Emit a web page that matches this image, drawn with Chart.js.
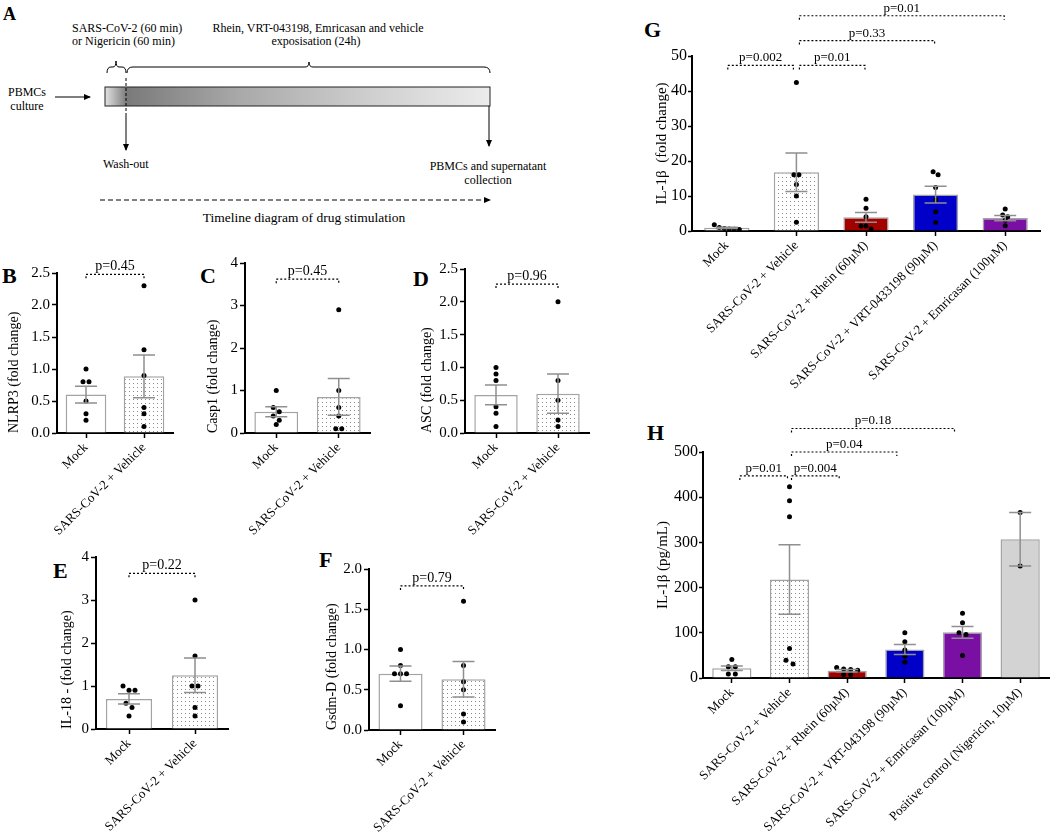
<!DOCTYPE html>
<html><head><meta charset="utf-8">
<script src="https://cdn.jsdelivr.net/npm/chart.js@4.4.1/dist/chart.umd.min.js"></script>
<style>
html,body{margin:0;padding:0;background:#fff;}
#wrap{position:relative;width:1052px;height:837px;overflow:hidden;background:#fff;}
canvas{position:absolute;}
svg{position:absolute;left:0;top:0;}
</style></head><body>
<div id="wrap">
<svg width="1052" height="837" font-family="'Liberation Serif', 'Times New Roman', serif" fill="#000">
<defs>
<linearGradient id="tl" x1="0" x2="1" y1="0" y2="0">
<stop offset="0" stop-color="#e2e2e2"/>
<stop offset="0.057" stop-color="#7a7a7a"/>
<stop offset="0.35" stop-color="#a9a9a9"/>
<stop offset="0.7" stop-color="#d0d0d0"/>
<stop offset="1" stop-color="#ececec"/>
</linearGradient>
<marker id="ah" markerWidth="8" markerHeight="8" refX="6" refY="4" orient="auto" markerUnits="userSpaceOnUse"><path d="M0,1 L7,4 L0,7 z" fill="#000"/></marker>
</defs>
<text x="3" y="20" font-size="18" font-weight="bold">A</text>
<text x="72" y="32" font-size="12">SARS-CoV-2 (60 min)</text>
<text x="72" y="45" font-size="12">or Nigericin (60 min)</text>
<text x="318" y="32" font-size="12" text-anchor="middle">Rhein, VRT-043198, Emricasan and vehicle</text>
<text x="316" y="45" font-size="12" text-anchor="middle">exposisation (24h)</text>
<path d="M107,73 Q107,67 111,67 L113,67 Q116,67 116,61 Q116,67 119,67 L122,67 Q126,67 126,73" fill="none" stroke="#000" stroke-width="1"/>
<path d="M127,73 Q127,67 133,67 L305,67 Q309,67 309,62 Q309,67 313,67 L484,67 Q490,67 490,73" fill="none" stroke="#000" stroke-width="1"/>
<rect x="105" y="87" width="385" height="19" fill="url(#tl)" stroke="#222" stroke-width="1"/>
<text x="27" y="96" font-size="12" text-anchor="middle">PBMCs</text>
<text x="27" y="110" font-size="12" text-anchor="middle">culture</text>
<line x1="55" y1="97" x2="90" y2="97" stroke="#000" stroke-width="1" marker-end="url(#ah)"/>
<line x1="126" y1="78" x2="126" y2="116" stroke="#000" stroke-width="1" stroke-dasharray="3,2"/>
<line x1="126" y1="116" x2="126" y2="150" stroke="#000" stroke-width="1" marker-end="url(#ah)"/>
<text x="103" y="168" font-size="12">Wash-out</text>
<line x1="489" y1="106" x2="489" y2="146" stroke="#000" stroke-width="1" marker-end="url(#ah)"/>
<text x="488" y="170" font-size="12" text-anchor="middle">PBMCs and supernatant</text>
<text x="488" y="184" font-size="12" text-anchor="middle">collection</text>
<line x1="100" y1="200" x2="490" y2="200" stroke="#000" stroke-width="1" stroke-dasharray="5,3" marker-end="url(#ah)"/>
<text x="304" y="222" font-size="13.5" text-anchor="middle">Timeline diagram of drug stimulation</text>
<text x="2" y="283" font-size="22" font-weight="bold">B</text>
<text x="200" y="283" font-size="22" font-weight="bold">C</text>
<text x="413" y="286" font-size="22" font-weight="bold">D</text>
<text x="53" y="578" font-size="22" font-weight="bold">E</text>
<text x="319" y="567" font-size="22" font-weight="bold">F</text>
<text x="644" y="37" font-size="22" font-weight="bold">G</text>
<text x="647" y="440" font-size="22" font-weight="bold">H</text>
</svg>
<canvas id="cB" width="190" height="290" style="left:0px;top:250px"></canvas>
<canvas id="cC" width="200" height="295" style="left:185px;top:245px"></canvas>
<canvas id="cD" width="220" height="295" style="left:385px;top:245px"></canvas>
<canvas id="cE" width="200" height="297" style="left:40px;top:540px"></canvas>
<canvas id="cF" width="200" height="297" style="left:310px;top:540px"></canvas>
<canvas id="cG" width="407" height="400" style="left:645px;top:0px"></canvas>
<canvas id="cH" width="402" height="437" style="left:650px;top:400px"></canvas>
</div>
<script>
const SERIF = "'Liberation Serif', 'Times New Roman', serif";

// ---------- data ----------
const catsTwo = ['Mock', 'SARS-CoV-2 + Vehicle'];

// B: NLRP3
const nlrp3Mean = [0.60, 0.885];
const nlrp3Sem = [0.13, 0.335];
const nlrp3Mock = [1.0, 0.8, 0.8, 0.5, 0.3, 0.2];
const nlrp3Vehicle = [2.3, 1.3, 0.9, 0.4, 0.3, 0.1];
const nlrp3Ticks = [0, 0.5, 1.0, 1.5, 2.0, 2.5];
const nlrp3PText = ['p=0.45'];
const nlrp3PLevel = [2.48];

// C: Casp1
const casp1Mean = [0.50, 0.85];
const casp1Sem = [0.12, 0.43];
const casp1Mock = [1.0, 0.6, 0.5, 0.4, 0.3, 0.2];
const casp1Vehicle = [2.9, 1.0, 0.6, 0.4, 0.1, 0.1];
const casp1Ticks = [0, 1, 2, 3, 4];
const casp1PText = ['p=0.45'];
const casp1PLevel = [3.62];

// D: ASC
const ascMean = [0.58, 0.60];
const ascSem = [0.15, 0.30];
const ascMock = [1.0, 0.9, 0.8, 0.4, 0.3, 0.1];
const ascVehicle = [2.0, 0.8, 0.5, 0.2, 0.1];
const ascTicks = [0, 0.5, 1.0, 1.5, 2.0, 2.5];
const ascPText = ['p=0.96'];
const ascPLevel = [2.27];

// E: IL-18
const il18Mean = [0.70, 1.25];
const il18Sem = [0.12, 0.40];
const il18Mock = [1.0, 0.9, 0.9, 0.6, 0.5, 0.3];
const il18Vehicle = [3.0, 1.7, 1.0, 1.0, 0.5, 0.3];
const il18Ticks = [0, 1, 2, 3, 4];
const il18PText = ['p=0.22'];
const il18PLevel = [3.62];

// F: Gsdm-D
const gsdmMean = [0.70, 0.63];
const gsdmSem = [0.095, 0.22];
const gsdmMock = [1.0, 0.8, 0.7, 0.7, 0.7, 0.3];
const gsdmVehicle = [1.6, 0.8, 0.6, 0.5, 0.2, 0.1];
const gsdmTicks = [0, 0.5, 1.0, 1.5, 2.0];
const gsdmPText = ['p=0.79'];
const gsdmPLevel = [1.79];

// G: IL-1β fold change
const catsG = ['Mock', 'SARS-CoV-2 + Vehicle', 'SARS-CoV-2 + Rhein (60µM)', 'SARS-CoV-2 + VRT-0433198 (90µM)', 'SARS-CoV-2 + Emricasan (100µM)'];
const gMean = [0.9, 16.8, 3.9, 10.4, 3.7];
const gSem = [0.2, 5.5, 1.4, 2.4, 0.75];
const gMock = [1.0, 0.7, 0.5, 0.4, 0.6, 1.8];
const gVehicle = [42.4, 16.1, 16.1, 13.3, 10.0, 2.5];
const gRhein = [9.1, 6.5, 4.1, 1.4, 1.4, 0.6];
const gVRT = [16.9, 16.1, 12.4, 9.0, 5.5, 2.4];
const gEmricasan = [6.3, 4.6, 4.1, 3.1, 1.5];
const gTicks = [0, 10, 20, 30, 40, 50];
const gPFrom = [0, 1, 1, 1];
const gPTo = [1, 2, 3, 4];
const gPLevel = [47.3, 47.3, 54.4, 61.5];
const gPText = ['p=0.002', 'p=0.01', 'p=0.33', 'p=0.01'];

// H: IL-1β pg/mL
const catsH = ['Mock', 'SARS-CoV-2 + Vehicle', 'SARS-CoV-2 + Rhein (60µM)', 'SARS-CoV-2 + VRT-043198 (90µM)', 'SARS-CoV-2 + Emricasan (100µM)', 'Positive control (Nigericin, 10µM)'];
const hMean = [21.5, 218, 16, 63, 101, 307];
const hSem = [5, 77, 3, 11, 13, 59];
const hMock = [41, 25, 25, 9, 9];
const hVehicle = [423, 392, 357, 65, 39, 31];
const hRhein = [23, 20, 19, 17, 8, 8];
const hVRT = [100, 80, 62, 48, 35];
const hEmricasan = [143, 122, 100, 96, 50];
const hPositive = [366, 248];
const hTicks = [0, 100, 200, 300, 400, 500];
const hPFrom = [0, 1, 1, 1];
const hPTo = [1, 2, 3, 4];
const hPLevel = [447, 447, 500, 552];
const hPText = ['p=0.01', 'p=0.004', 'p=0.04', 'p=0.18'];

// ---------- drawing ----------
function dotPattern(ctx) {
  const c = document.createElement('canvas');
  c.width = 4; c.height = 4;
  const x = c.getContext('2d');
  x.fillStyle = '#fff'; x.fillRect(0, 0, 4, 4);
  x.fillStyle = '#8a8a8a'; x.fillRect(1, 1, 1, 1);
  return ctx.createPattern(c, 'repeat');
}

function overlay(o) {
  return {
    id: 'overlay',
    afterDatasetsDraw(chart) {
      const c = chart.ctx, xs = chart.scales.x, ys = chart.scales.y;
      c.save();
      c.fillStyle = '#000';
      o.points.forEach((grp, i) => {
        const cx = xs.getPixelForValue(i);
        const py = grp.map(v => ys.getPixelForValue(v)).sort((a, b) => a - b);
        const clusters = [];
        py.forEach(p => {
          const last = clusters[clusters.length - 1];
          if (last && p - last[0] < 5) last.push(p); else clusters.push([p]);
        });
        clusters.forEach(cl => cl.forEach((p, k) => {
          const dx = (k - (cl.length - 1) / 2) * o.spread;
          c.beginPath(); c.arc(cx + dx, p, 2.5, 0, Math.PI * 2); c.fill();
        }));
      });
      c.strokeStyle = '#8f8f8f'; c.lineWidth = 1.5;
      o.means.forEach((m, i) => {
        const cx = xs.getPixelForValue(i);
        const yt = ys.getPixelForValue(m + o.sems[i]);
        const yb = ys.getPixelForValue(m - o.sems[i]);
        c.beginPath();
        c.moveTo(cx, yt); c.lineTo(cx, yb);
        c.moveTo(cx - 11, yt); c.lineTo(cx + 11, yt);
        c.moveTo(cx - 11, yb); c.lineTo(cx + 11, yb);
        c.stroke();
      });
      c.strokeStyle = '#000'; c.lineWidth = 1.2; c.setLineDash([2, 2]);
      c.font = o.pFont + 'px ' + SERIF; c.textAlign = 'center'; c.textBaseline = 'alphabetic';
      o.brFrom.forEach((f, k) => {
        const t = o.brTo[k];
        const x1 = xs.getPixelForValue(f) + (f === 1 ? o.gap : o.inset);
        const x2 = xs.getPixelForValue(t) - (t === 1 ? o.gap : o.inset);
        const y = ys.getPixelForValue(o.brLevel[k]);
        c.beginPath(); c.moveTo(x1, y + 4); c.lineTo(x1, y); c.lineTo(x2, y); c.lineTo(x2, y + 4); c.stroke();
        c.fillText(o.brText[k], (x1 + x2) / 2, y - 4);
      });
      c.restore();
    }
  };
}

function panel(id, o) {
  const canvas = document.getElementById(id);
  const ctx = canvas.getContext('2d');
  const pat = dotPattern(ctx);
  const bg = o.fills.map(f => f === 'dots' ? pat : f);
  new Chart(canvas, {
    type: 'bar',
    data: { labels: o.labels, datasets: [{ data: o.means, backgroundColor: bg, borderColor: '#a3a3a3', borderWidth: 1.5, borderSkipped: 'start', barPercentage: o.barPct, categoryPercentage: 1 }] },
    options: {
      responsive: false, animation: false, events: [],
      layout: { padding: { top: o.padTop, right: o.padRight, left: 0, bottom: 0 } },
      plugins: { legend: { display: false }, tooltip: { enabled: false } },
      scales: {
        x: {
          offset: true,
          grid: { display: true, offset: false, drawOnChartArea: false, drawTicks: true, tickLength: 5, tickWidth: 1.5, tickColor: '#000', color: '#000' },
          border: { display: true, color: '#000', width: 2 },
          ticks: { autoSkip: false, minRotation: 45, maxRotation: 45, font: { family: SERIF, size: o.xFont }, color: '#000', padding: 2 },
          afterFit: s => { s.height = o.xH; }
        },
        y: {
          min: 0, max: o.ticks[o.ticks.length - 1],
          afterBuildTicks: s => { s.ticks = o.ticks.map(v => ({ value: v })); },
          ticks: { callback: v => Number(v).toFixed(o.dec), font: { family: SERIF, size: o.tickFont }, color: '#000', padding: o.tickPad },
          grid: { display: true, drawOnChartArea: false, drawTicks: true, tickLength: o.tickLen, tickWidth: 1.5, tickColor: '#000', color: '#000' },
          border: { display: true, color: '#000', width: 2 },
          title: { display: true, text: o.title, align: o.titleAlign, font: { family: SERIF, size: o.titleFont, lineHeight: 1 }, color: '#000', padding: { top: o.titleCenter - o.titleFont / 2, bottom: 0 } },
          afterFit: s => { s.width = o.yW; }
        }
      }
    },
    plugins: [overlay(o)]
  });
}

const small = { fills: ['#ffffff', 'dots'], barPct: 0.7, xFont: 13, tickFont: 15, titleFont: 14, pFont: 14, spread: 6, gap: 0, inset: 0, brFrom: [0], brTo: [1], titleAlign: 'start', tickLen: 5, tickPad: 2 };

panel('cB', Object.assign({}, small, { labels: catsTwo, means: nlrp3Mean, sems: nlrp3Sem, points: [nlrp3Mock, nlrp3Vehicle], ticks: nlrp3Ticks, dec: 1, title: 'NLRP3 (fold change)', brLevel: nlrp3PLevel, brText: nlrp3PText, yW: 57, xH: 107, padTop: 23, padRight: 17, titleCenter: 14 }));
panel('cC', Object.assign({}, small, { labels: catsTwo, means: casp1Mean, sems: casp1Sem, points: [casp1Mock, casp1Vehicle], ticks: casp1Ticks, dec: 0, title: 'Casp1 (fold change)', brLevel: casp1PLevel, brText: casp1PText, yW: 60, xH: 107, padTop: 18, padRight: 15, titleCenter: 28 }));
panel('cD', Object.assign({}, small, { labels: catsTwo, means: ascMean, sems: ascSem, points: [ascMock, ascVehicle], ticks: ascTicks, dec: 1, title: 'ASC (fold change)', brLevel: ascPLevel, brText: ascPText, yW: 80, xH: 107, padTop: 24, padRight: 16, titleCenter: 42 }));
panel('cE', Object.assign({}, small, { labels: catsTwo, means: il18Mean, sems: il18Sem, points: [il18Mock, il18Vehicle], ticks: il18Ticks, dec: 0, title: 'IL-18 - (fold change)', brLevel: il18PLevel, brText: il18PText, yW: 56, xH: 108, padTop: 17, padRight: 12, titleCenter: 27 }));
panel('cF', Object.assign({}, small, { labels: catsTwo, means: gsdmMean, sems: gsdmSem, points: [gsdmMock, gsdmVehicle], ticks: gsdmTicks, dec: 1, title: 'Gsdm-D (fold change)', brLevel: gsdmPLevel, brText: gsdmPText, yW: 59, xH: 107, padTop: 29, padRight: 15, titleCenter: 22 }));

panel('cG', { labels: catsG, means: gMean, sems: gSem, points: [gMock, gVehicle, gRhein, gVRT, gEmricasan], fills: ['#ffffff', 'dots', '#a30000', '#0000c8', '#7a0fa3'], barPct: 0.65, xFont: 13, tickFont: 16, titleFont: 15, pFont: 13, spread: 5, gap: 3, inset: 1, ticks: gTicks, dec: 0, title: 'IL-1β  (fold change)', titleAlign: 'center', tickLen: 4, tickPad: 1, brFrom: gPFrom, brTo: gPTo, brLevel: gPLevel, brText: gPText, yW: 47, xH: 169, padTop: 56, padRight: 12, titleCenter: 17 });
panel('cH', { labels: catsH, means: hMean, sems: hSem, points: [hMock, hVehicle, hRhein, hVRT, hEmricasan, hPositive], fills: ['#ffffff', 'dots', '#a30000', '#0000c8', '#7a0fa3', '#d3d3d3'], barPct: 0.68, xFont: 13, tickFont: 16, titleFont: 15, pFont: 13, spread: 7, gap: 2, inset: 8, ticks: hTicks, dec: 0, title: 'IL-1β (pg/mL)', titleAlign: 'center', tickLen: 4, tickPad: 1, brFrom: hPFrom, brTo: hPTo, brLevel: hPLevel, brText: hPText, yW: 53, xH: 159, padTop: 52, padRight: 3, titleCenter: 13 });
</script>
</body></html>
